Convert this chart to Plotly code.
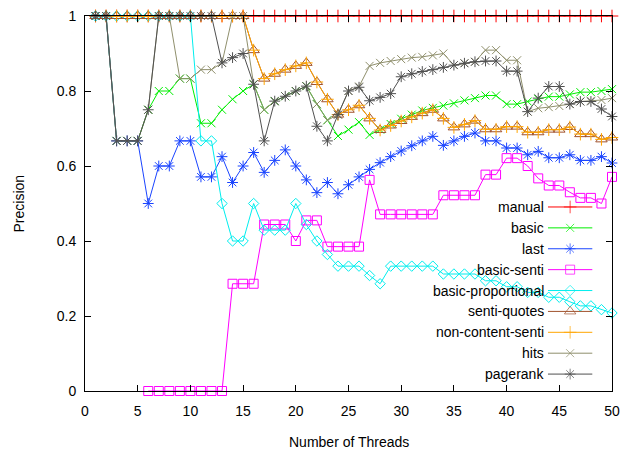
import plotly.graph_objects as go

threads = list(range(1, 51))
threads_senti = list(range(6, 51))

manual = [1, 1, 1, 1, 1, 1, 1, 1, 1, 1, 1, 1, 1, 1, 1, 1, 1, 1, 1, 1, 1, 1, 1, 1, 1,
          1, 1, 1, 1, 1, 1, 1, 1, 1, 1, 1, 1, 1, 1, 1, 1, 1, 1, 1, 1, 1, 1, 1, 1, 1]

basic = [1, 1, 0.667, 0.667, 0.667, 0.75, 0.8, 0.8, 0.833, 0.833,
         0.714, 0.714, 0.75, 0.778, 0.8, 0.818, 0.75, 0.773, 0.786, 0.8,
         0.813, 0.765, 0.722, 0.68, 0.697, 0.717, 0.683, 0.697, 0.712, 0.726,
         0.737, 0.748, 0.755, 0.761, 0.767, 0.775, 0.781, 0.788, 0.788, 0.765,
         0.765, 0.772, 0.779, 0.785, 0.785, 0.791, 0.797, 0.797, 0.8, 0.805]

last = [1, 1, 0.667, 0.667, 0.667, 0.5, 0.6, 0.6, 0.667, 0.667,
        0.571, 0.571, 0.625, 0.556, 0.6, 0.636, 0.583, 0.615, 0.643, 0.6,
        0.563, 0.529, 0.556, 0.526, 0.55, 0.571, 0.591, 0.609, 0.625, 0.64,
        0.654, 0.667, 0.679, 0.655, 0.667, 0.679, 0.688, 0.667, 0.667, 0.648,
        0.648, 0.63, 0.639, 0.622, 0.622, 0.63, 0.615, 0.615, 0.625, 0.608]

basic_senti = [0, 0, 0, 0, 0, 0, 0, 0, 0.286, 0.286,
               0.286, 0.444, 0.444, 0.444, 0.4, 0.455, 0.455, 0.385, 0.385, 0.385,
               0.385, 0.563, 0.471, 0.471, 0.471, 0.471, 0.471, 0.471, 0.522, 0.522,
               0.522, 0.522, 0.577, 0.577, 0.621, 0.621, 0.6, 0.567, 0.548, 0.548,
               0.53, 0.515, 0.515, 0.5, 0.571]

basic_proportional = [1, 1, 1, 1, 1, 1, 1, 1, 1, 1,
                      0.667, 0.667, 0.5, 0.4, 0.4, 0.5, 0.429, 0.429, 0.429, 0.5,
                      0.444, 0.4, 0.364, 0.333, 0.333, 0.333, 0.308, 0.286, 0.333, 0.333,
                      0.333, 0.333, 0.333, 0.312, 0.312, 0.312, 0.312, 0.294, 0.294, 0.278,
                      0.278, 0.263, 0.263, 0.25, 0.25, 0.238, 0.227, 0.227, 0.217, 0.208]

senti_quotes = [1, 1, 1, 1, 1, 1, 1, 1, 1, 1,
                1, 1, 1, 1, 1, 0.909, 0.833, 0.846, 0.857, 0.867,
                0.875, 0.824, 0.778, 0.737, 0.75, 0.762, 0.727, 0.696, 0.708, 0.72,
                0.731, 0.741, 0.75, 0.727, 0.703, 0.711, 0.721, 0.698, 0.698, 0.705,
                0.705, 0.69, 0.69, 0.697, 0.697, 0.704, 0.685, 0.685, 0.671, 0.676]

non_content_senti = [1, 1, 1, 1, 1, 1, 1, 1, 1, 1,
                     1, 1, 1, 1, 1, 0.909, 0.833, 0.846, 0.857, 0.867,
                     0.875, 0.824, 0.778, 0.737, 0.75, 0.762, 0.727, 0.696, 0.708, 0.72,
                     0.731, 0.741, 0.75, 0.727, 0.703, 0.711, 0.721, 0.698, 0.698, 0.705,
                     0.705, 0.69, 0.69, 0.697, 0.697, 0.704, 0.685, 0.685, 0.671, 0.676]

hits = [1, 1, 0.667, 0.667, 0.667, 0.75, 1, 1, 0.833, 0.833,
        0.857, 0.857, 0.875, 1, 1, 0.818, 0.75, 0.773, 0.786, 0.8,
        0.813, 0.765, 0.722, 0.737, 0.8, 0.812, 0.867, 0.875, 0.88, 0.885,
        0.889, 0.891, 0.895, 0.9, 0.869, 0.874, 0.878, 0.909, 0.909, 0.882,
        0.882, 0.745, 0.754, 0.757, 0.76, 0.765, 0.772, 0.774, 0.776, 0.781]

pagerank = [1, 1, 0.667, 0.667, 0.667, 0.75, 1, 1, 1, 1,
            1, 1, 0.875, 0.889, 0.9, 0.818, 0.667, 0.773, 0.786, 0.8,
            0.813, 0.706, 0.667, 0.737, 0.8, 0.81, 0.774, 0.783, 0.793, 0.838,
            0.846, 0.852, 0.857, 0.863, 0.869, 0.874, 0.878, 0.88, 0.88, 0.853,
            0.853, 0.745, 0.781, 0.812, 0.812, 0.765, 0.772, 0.772, 0.752, 0.732]

x_ticks = [0, 5, 10, 15, 20, 25, 30, 35, 40, 45, 50]
y_ticks = [0, 0.2, 0.4, 0.6, 0.8, 1]
y_tick_labels = ["0", "0.2", "0.4", "0.6", "0.8", "1"]

series = [
    ("manual", threads, manual, "#ff0000", "cross-thin-open", 9),
    ("basic", threads, basic, "#00ee00", "x-thin-open", 8),
    ("last", threads, last, "#1a44ff", "asterisk-open", 9),
    ("basic-senti", threads_senti, basic_senti, "#ff00ff", "square-open", 9),
    ("basic-proportional", threads, basic_proportional, "#00eeee", "diamond-open", 8),
    ("senti-quotes", threads, senti_quotes, "#a0522d", "triangle-up-open", 10),
    ("non-content-senti", threads, non_content_senti, "#ffa500", "cross-thin-open", 9),
    ("hits", threads, hits, "#8f8f6c", "x-thin-open", 8),
    ("pagerank", threads, pagerank, "#505050", "asterisk-open", 9),
]

FONT = "Liberation Sans, Arial, sans-serif"
FS = 14
fig = go.Figure()

for name, xs, ys, color, sym, size in series:
    fig.add_trace(go.Scatter(
        x=xs, y=ys, name=name, mode="lines+markers",
        line=dict(color=color, width=1),
        marker=dict(symbol=sym, size=size, color=color, line=dict(color=color, width=1)),
        cliponaxis=False, showlegend=False,
    ))

# Custom legend (gnuplot style: right-aligned text, then sample line with marker)
# drawn on an overlay axis whose range equals the pixel coordinates of the plot area.
leg_rows = [206, 227, 248, 269, 290, 311, 332, 353, 374]
leg_syms = []
leg_cols = []
leg_sizes = []
for (name, xs, ys, color, sym, size), ry in zip(series, leg_rows):
    fig.add_trace(go.Scatter(
        x=[555, 600], y=[ry, ry], mode="lines", line=dict(color=color, width=1),
        xaxis="x2", yaxis="y2", showlegend=False, hoverinfo="skip",
    ))
    fig.add_annotation(x=553, y=ry, xref="x2", yref="y2", text=name,
                       showarrow=False, xanchor="right", yanchor="middle",
                       font=dict(family=FONT, size=FS, color="black"))
    leg_syms.append(sym)
    leg_cols.append(color)
    leg_sizes.append(size)

fig.add_trace(go.Scatter(
    x=[577.5] * len(leg_rows), y=leg_rows, mode="markers",
    marker=dict(symbol=leg_syms, size=leg_sizes, color=leg_cols,
                line=dict(color=leg_cols, width=1)),
    xaxis="x2", yaxis="y2", showlegend=False, hoverinfo="skip", cliponaxis=False,
))

axis_common = dict(
    showgrid=False, zeroline=False, showline=True, linecolor="black", linewidth=1,
    mirror="ticks", ticks="inside", ticklen=6, tickcolor="black", tickwidth=1,
    tickfont=dict(family=FONT, size=FS, color="black"),
)

fig.update_layout(
    width=628, height=450,
    margin=dict(l=85, r=8, t=14, b=59),
    paper_bgcolor="white", plot_bgcolor="white",
    font=dict(family=FONT, size=FS, color="black"),
    xaxis=dict(range=[0, 50], tickvals=x_ticks, ticklabelstandoff=7, **axis_common),
    yaxis=dict(range=[0, 1], tickvals=y_ticks, ticktext=y_tick_labels,
               ticklabelstandoff=5, **axis_common),
    xaxis2=dict(overlaying="x", range=[85, 620], visible=False),
    yaxis2=dict(overlaying="y", range=[391, 14], visible=False),
    showlegend=False,
)

fig.add_annotation(text="Number of Threads", xref="paper", yref="paper", x=0.5, y=0,
                   yshift=-51, showarrow=False, xanchor="center", yanchor="middle",
                   font=dict(family=FONT, size=FS, color="black"))
fig.add_annotation(text="Precision", xref="paper", yref="paper", x=0, y=0.5,
                   xshift=-67, showarrow=False, textangle=-90, xanchor="center",
                   yanchor="middle", font=dict(family=FONT, size=FS, color="black"))

fig.write_html("out.html")
